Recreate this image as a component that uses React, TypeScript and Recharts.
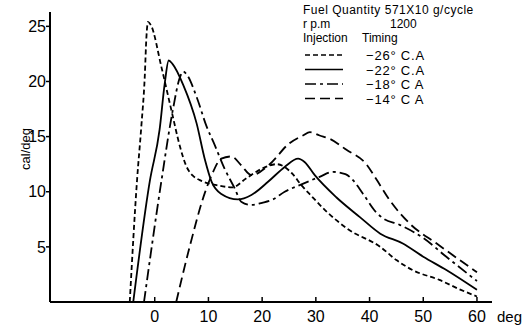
import { LineChart, Line, XAxis, YAxis } from 'recharts';

// crank angle (deg) / heat release rate (cal/deg) for each injection timing
const x26 = [-4.65, -3.3, -2.5, -1.86, -1.55, -1.25, -0.7, 1.25, 3.1, 4.7, 5.9, 7, 8.4, 11.5, 14.5, 17, 20, 22.7, 25.5, 27.3, 29.2, 32, 36, 42, 45, 48, 53, 57, 60];
const y26 = [0, 11, 15.9, 20.4, 24, 25.4, 25.1, 21.3, 17.4, 14.1, 12.3, 11.5, 11.05, 10.6, 10.4, 11.2, 12.1, 12.5, 11.7, 10.6, 9.6, 8.2, 6.6, 5.0, 3.8, 2.9, 2.0, 1.1, 0.5];

const x22 = [-4.0, -0.9, 0.9, 1.86, 2.6, 3.3, 5.3, 7.8, 9.3, 10.6, 12.4, 15.5, 18, 21.1, 24.2, 26.7, 27.9, 29.8, 33.8, 38.2, 42, 46.2, 50, 54.3, 60];
const y22 = [0, 11, 15.6, 19.8, 21.9, 21.6, 19.7, 16.2, 13.0, 10.9, 9.8, 9.3, 9.7, 10.9, 12.25, 13.0, 12.7, 11.5, 9.5, 7.7, 6.2, 5.3, 4.1, 2.9, 1.1];

const x18 = [-2, 1.25, 3.4, 4.7, 5.3, 6, 7.8, 9.6, 11.2, 13, 14.9, 16.1, 18, 20, 22, 24.2, 27, 30.7, 33.2, 35.5, 37, 38.8, 41.3, 42.5, 45.6, 50, 54.3, 60];
const y18 = [0, 11, 17.5, 20.4, 20.9, 20.6, 18.6, 16.0, 14.2, 12.1, 10.3, 9.1, 8.8, 9.0, 9.3, 10.0, 10.6, 11.35, 11.8, 11.6, 11.0, 9.8, 8.1, 7.6, 7.0, 5.8, 4.1, 1.9];

const x14 = [4.0, 6.5, 9.3, 10.6, 12.4, 14.3, 16.1, 18, 21.2, 25.1, 27.6, 28.9, 30.7, 32.6, 35.7, 39.4, 41.3, 43.8, 47.5, 52.5, 60];
const y14 = [0, 5.0, 9.85, 11.5, 13.0, 13.2, 12.4, 11.5, 12.4, 14.4, 15.1, 15.4, 15.1, 14.8, 13.8, 12.5, 11.1, 9.2, 7.1, 5.3, 2.7];

const xTicks = [0, 10, 20, 30, 40, 50, 60];
const yTicks = [5, 10, 15, 20, 25];

const legendTimings = ['−26° C.A', '−22° C.A', '−18° C A', '−14° C A'];
const dashes = ['5 3', '0', '11 4 3 4', '10 5'];

const zip = (xs: number[], ys: number[]) => xs.map((x, i) => ({ x, y: ys[i] }));
const series = [zip(x26, y26), zip(x22, y22), zip(x18, y18), zip(x14, y14)];

const font = '"Liberation Sans", Arial, sans-serif';

function XTick({ x, y, payload }: any) {
  return (
    <g>
      <line x1={x} x2={x} y1={y} y2={y - 5} stroke="#000" strokeWidth={1.5} />
      <text x={x} y={y + 20} textAnchor="middle" fontSize={16} fontFamily={font} fill="#000">
        {payload.value}
      </text>
    </g>
  );
}

export default function App() {
  return (
    <div style={{ position: 'relative', width: 524, height: 330, background: '#fff' }}>
      <style>{`body{margin:0}`}</style>
      <LineChart width={524} height={330} margin={{ top: 12, right: 32, bottom: 0, left: 0 }}>
        <XAxis
          type="number"
          dataKey="x"
          domain={[-19.5, 62.8]}
          ticks={xTicks}
          tickSize={0}
          tickMargin={0}
          tickLine={false}
          tick={<XTick />}
          height={28}
          axisLine={{ stroke: '#000', strokeWidth: 2 }}
        />
        <YAxis
          type="number"
          domain={[0, 26.3]}
          ticks={yTicks}
          width={50}
          tickSize={4}
          tickMargin={0}
          tickLine={{ stroke: '#000', strokeWidth: 1.5 }}
          tick={{ fontSize: 16, fontFamily: font, fill: '#000' }}
          axisLine={{ stroke: '#000', strokeWidth: 2 }}
        />
        {series.map((d, i) => (
          <Line
            key={i}
            data={d}
            dataKey="y"
            type="monotone"
            stroke="#000"
            strokeWidth={1.8}
            strokeDasharray={dashes[i]}
            dot={false}
            isAnimationActive={false}
          />
        ))}
      </LineChart>
      <svg width={524} height={330} style={{ position: 'absolute', left: 0, top: 0, pointerEvents: 'none' }}>
        <g fontFamily={font} fill="#000" fontSize={12}>
          <text x={303} y={14} letterSpacing={0.5}>Fuel Quantity 571X10 g/cycle</text>
          <text x={303} y={28}>r  p.m</text>
          <text x={390} y={28}>1200</text>
          <text x={303} y={42}>Injection</text>
          <text x={362} y={42}>Timing</text>
          {legendTimings.map((t, i) => (
            <g key={t}>
              <line x1={305} x2={343} y1={55 + i * 14.5} y2={55 + i * 14.5} stroke="#000" strokeWidth={1.5} strokeDasharray={dashes[i]} />
              <text x={366} y={60 + i * 14.5} fontSize={13} letterSpacing={0.8}>{t}</text>
            </g>
          ))}
          <text x={497} y={322} fontSize={15}>deg</text>
          <text x={0} y={0} transform="translate(30,149) rotate(-90)" textAnchor="middle" fontSize={13}>cal/deg</text>
        </g>
      </svg>
    </div>
  );
}
